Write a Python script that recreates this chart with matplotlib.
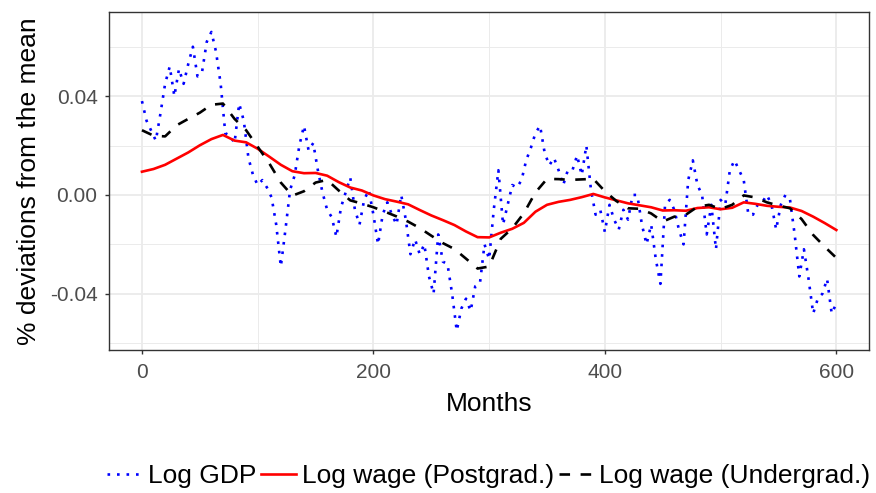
import numpy as np
import matplotlib
matplotlib.use("Agg")
import matplotlib.pyplot as plt
from matplotlib.ticker import FixedLocator, FixedFormatter

# Log GDP, every 4 months (0..600)
gdp_months = np.arange(0, 601, 4)
gdp = [
    0.038, 0.030, 0.026, 0.022, 0.033, 0.045, 0.052, 0.040, 0.051, 0.045,
    0.053, 0.060, 0.048, 0.050, 0.062, 0.066, 0.058, 0.045, 0.025, 0.024,
    0.021, 0.037, 0.030, 0.015, 0.008, 0.004, 0.006, 0.003, -0.001, -0.012,
    -0.029, -0.014, 0.002, 0.008, 0.020, 0.028, 0.018, 0.021, 0.010, 0.001,
    -0.006, -0.009, -0.017, -0.005, 0.001, 0.007, -0.006, -0.012, -0.002, 0.002,
    -0.008, -0.020, -0.008, -0.003, -0.008, -0.012, 0.000, -0.010, -0.024, -0.018,
    -0.024, -0.020, -0.033, -0.040, -0.016, -0.027, -0.028, -0.040, -0.055, -0.046,
    -0.042, -0.047, -0.037, -0.036, -0.020, -0.026, -0.006, 0.010, -0.012, -0.004,
    0.004, 0.003, 0.006, 0.014, 0.019, 0.025, 0.028, 0.017, 0.012, 0.015,
    0.010, 0.004, 0.010, 0.010, 0.016, 0.008, 0.020, 0.002, -0.008, -0.006,
    -0.015, -0.004, -0.010, -0.014, -0.006, -0.010, 0.000, 0.000, -0.012, -0.020,
    -0.012, -0.026, -0.036, -0.004, -0.002, -0.006, -0.014, -0.020, 0.006, 0.014,
    0.004, 0.000, -0.016, -0.004, -0.022, -0.002, -0.004, 0.010, 0.014, 0.010,
    0.006, -0.008, -0.008, -0.004, -0.003, 0.000, -0.004, -0.014, -0.004, 0.000,
    -0.002, -0.016, -0.033, -0.022, -0.034, -0.048, -0.042, -0.040, -0.034, -0.048,
    -0.044,
]

# wage series, every 10 months (0..600)
wage_months = np.arange(0, 601, 10)
wage_postgrad = [
    0.0094, 0.0105, 0.0122, 0.0147, 0.0172, 0.0201, 0.0226, 0.0243, 0.0220, 0.0213,
    0.0187, 0.0155, 0.0122, 0.0096, 0.0088, 0.0089, 0.0078, 0.0052, 0.0030, 0.0018,
    -0.0002, -0.0017, -0.0027, -0.0038, -0.0061, -0.0083, -0.0102, -0.0122, -0.0148, -0.0171,
    -0.0172, -0.0153, -0.0137, -0.0113, -0.0068, -0.0040, -0.0028, -0.0020, -0.0009, 0.0004,
    -0.0010, -0.0022, -0.0034, -0.0042, -0.0050, -0.0063, -0.0062, -0.0064, -0.0053, -0.0050,
    -0.0058, -0.0052, -0.0030, -0.0036, -0.0044, -0.0048, -0.0051, -0.0065, -0.0088, -0.0114,
    -0.0142,
]
wage_undergrad = [
    0.0262, 0.0240, 0.0237, 0.0282, 0.0308, 0.0333, 0.0365, 0.0370, 0.0308, 0.0262,
    0.0195, 0.0128, 0.0050, -0.0003, 0.0015, 0.0050, 0.0061, 0.0018, -0.0022, -0.0035,
    -0.0050, -0.0068, -0.0087, -0.0108, -0.0134, -0.0165, -0.0195, -0.0219, -0.0258, -0.0298,
    -0.0290, -0.0178, -0.0135, -0.0074, 0.0010, 0.0065, 0.0064, 0.0061, 0.0063, 0.0065,
    0.0015, -0.0025, -0.0054, -0.0056, -0.0075, -0.0108, -0.0088, -0.0080, -0.0048, -0.0040,
    -0.0057, -0.0040, -0.0002, -0.0010, -0.0030, -0.0043, -0.0054, -0.0098, -0.0162, -0.0210,
    -0.0255,
]

series_labels = ["Log GDP", "Log wage (Postgrad.)", "Log wage (Undergrad.)"]
x_ticks = [0, 200, 400, 600]
x_minor = [100, 300, 500]
y_ticks = [-0.04, 0.00, 0.04]
y_tick_labels = ["-0.04", "0.00", "0.04"]
y_minor = [-0.06, -0.02, 0.02, 0.06]


def main():
    plt.rcParams["font.family"] = ["Liberation Sans", "DejaVu Sans"]

    fig = plt.figure(figsize=(8.76, 4.93), dpi=100)
    ax = fig.add_axes([0.1244, 0.29, 0.8673, 0.6863])

    lw = 1.9
    ax.plot(gdp_months, gdp, color="#0000FF", lw=lw, dashes=(1, 2.6),
            label=series_labels[0])
    ax.plot(wage_months, wage_postgrad, color="#FF0000", lw=lw,
            label=series_labels[1])
    ax.plot(wage_months, wage_undergrad, color="black", lw=lw, dashes=(4, 4),
            label=series_labels[2])

    ax.set_xlim(-28.5, 628)
    ax.set_ylim(-0.0628, 0.0742)

    # ggplot theme_bw look
    ax.xaxis.set_major_locator(FixedLocator(x_ticks))
    ax.xaxis.set_minor_locator(FixedLocator(x_minor))
    ax.yaxis.set_major_locator(FixedLocator(y_ticks))
    ax.yaxis.set_major_formatter(FixedFormatter(y_tick_labels))
    ax.yaxis.set_minor_locator(FixedLocator(y_minor))
    ax.grid(which="major", color="#EBEBEB", lw=1.3)
    ax.grid(which="minor", color="#EBEBEB", lw=0.7)
    ax.set_axisbelow(True)
    for s in ax.spines.values():
        s.set_color("#333333")
        s.set_linewidth(1.0)
    ax.tick_params(which="major", length=3.2, width=1.0, color="#333333",
                   labelsize=15, labelcolor="#4D4D4D")
    ax.tick_params(axis="x", which="major", pad=6)
    ax.tick_params(axis="y", which="major", pad=5)
    ax.tick_params(which="minor", length=0)

    ax.set_xlabel("Months", fontsize=19)
    ax.set_ylabel("% deviations from the mean", fontsize=19)
    ax.xaxis.set_label_coords(0.5, -0.125)
    ax.yaxis.set_label_coords(-0.090, 0.5)

    # legend sits at the very bottom, as in the reference, but kept inside
    fig.legend(loc="center", bbox_to_anchor=(0.558, 0.034), ncol=3,
               frameon=False, fontsize=19, handlelength=1.33,
               handletextpad=0.2, columnspacing=0.2, borderaxespad=0)

    plt.savefig("out.png", dpi=100)


if __name__ == "__main__":
    main()
